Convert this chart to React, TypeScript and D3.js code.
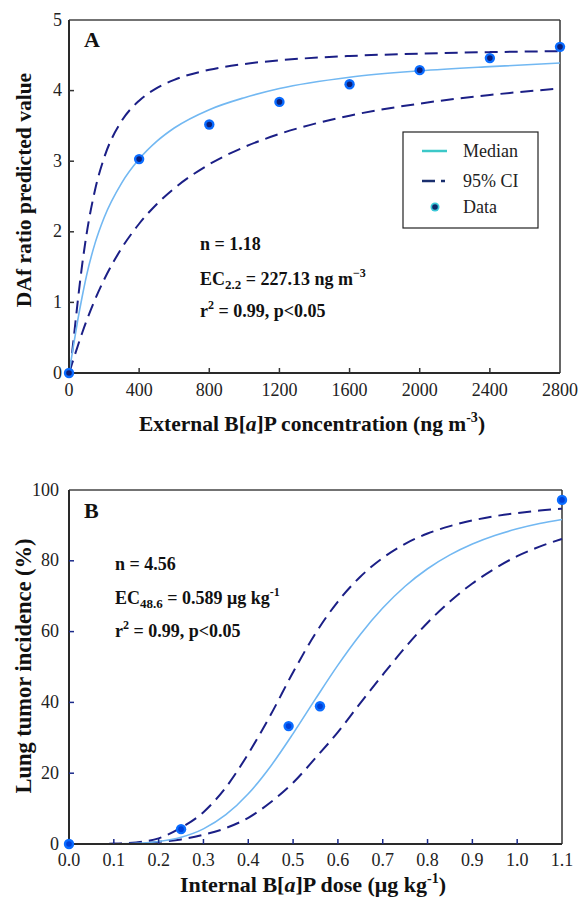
import React from "react";
import * as d3 from "d3";

// ---------- Panel A data ----------
const A_X_TICKS = [0, 400, 800, 1200, 1600, 2000, 2400, 2800];
const A_Y_TICKS = [0, 1, 2, 3, 4, 5];
const A_DATA_X = [0, 400, 800, 1200, 1600, 2000, 2400, 2800];
const A_DATA_Y = [0, 3.03, 3.52, 3.84, 4.09, 4.29, 4.46, 4.62];
const A_CURVE_X = [0, 10, 25, 50, 75, 100, 150, 200, 300, 400, 500, 600, 800, 1000, 1200, 1600, 2000, 2400, 2800];
const A_MEDIAN = [0, 0.15, 0.38, 0.75, 1.08, 1.38, 1.85, 2.2, 2.69, 3.03, 3.28, 3.47, 3.73, 3.9, 4.03, 4.19, 4.28, 4.34, 4.39];
const A_UPPER = [0, 0.136, 0.451, 1.019, 1.532, 1.964, 2.609, 3.046, 3.569, 3.857, 4.035, 4.152, 4.295, 4.377, 4.429, 4.49, 4.524, 4.545, 4.559];
const A_LOWER = [0, 0.073, 0.191, 0.383, 0.567, 0.739, 1.051, 1.322, 1.767, 2.114, 2.391, 2.615, 2.956, 3.201, 3.386, 3.645, 3.816, 3.938, 4.029];

// ---------- Panel B data ----------
const B_X_TICKS = [0, 0.1, 0.2, 0.3, 0.4, 0.5, 0.6, 0.7, 0.8, 0.9, 1.0, 1.1];
const B_Y_TICKS = [0, 20, 40, 60, 80, 100];
const B_DATA_X = [0, 0.25, 0.49, 0.56, 1.1];
const B_DATA_Y = [0, 4.2, 33.3, 38.9, 97.2];
const B_CURVE_X = [0, 0.05, 0.1, 0.15, 0.2, 0.25, 0.3, 0.35, 0.4, 0.45, 0.5, 0.55, 0.6, 0.65, 0.7, 0.75, 0.8, 0.85, 0.9, 0.95, 1.0, 1.05, 1.1];
const B_MEDIAN = [0, 0, 0.03, 0.19, 0.7, 1.91, 4.28, 8.27, 14.18, 21.98, 31.19, 40.99, 50.54, 59.21, 66.66, 72.81, 77.75, 81.66, 84.74, 87.15, 89.03, 90.52, 91.69];
const B_UPPER = [0, 0, 0.08, 0.45, 1.6, 4.6, 9.0, 16.0, 25.5, 36.5, 48.5, 59.5, 68.5, 75.5, 80.8, 84.8, 87.7, 89.8, 91.4, 92.6, 93.5, 94.2, 94.7];
const B_LOWER = [0, 0, 0.05, 0.2, 0.6, 1.3, 2.6, 4.5, 7.4, 11.8, 17.3, 24.3, 31.6, 39.8, 47.8, 55.5, 62.5, 68.5, 73.6, 77.8, 81.3, 84.0, 86.2];

const SERIF = { fontFamily: "Liberation Serif, DejaVu Serif, serif" };
const MEDIAN_COLOR = "#72b8f2";
const CI_COLOR = "#1b1f86";
const AXIS_COLOR = "#2a2a2a";

type PanelProps = {
  x0: number; x1: number; y0: number; y1: number;
  xDomain: [number, number]; yDomain: [number, number];
  xTicks: number[]; yTicks: number[];
  xFmt: (v: number) => string;
  xLabelOffset: number;
  yLabelGap: number;
  curveX: number[]; median: number[]; upper: number[]; lower: number[];
  dataX: number[]; dataY: number[];
  tickColor: string;
  innerColor: string;
};

function Panel(p: PanelProps) {
  const x = d3.scaleLinear().domain(p.xDomain).range([p.x0, p.x1]);
  const y = d3.scaleLinear().domain(p.yDomain).range([p.y1, p.y0]);
  const line = d3
    .line<number>()
    .x((_, i) => x(p.curveX[i]))
    .y((d) => y(d))
    .curve(d3.curveMonotoneX);
  return (
    <g>
      <line x1={p.x0} x2={p.x1} y1={p.y0} y2={p.y0} stroke="#444" strokeWidth={1.5} />
      <line x1={p.x1} x2={p.x1} y1={p.y0} y2={p.y1} stroke="#333" strokeWidth={1.5} />
      <path d={line(p.upper) || ""} fill="none" stroke={CI_COLOR} strokeWidth={2} strokeDasharray="13,7" />
      <path d={line(p.lower) || ""} fill="none" stroke={CI_COLOR} strokeWidth={2} strokeDasharray="13,7" />
      <path d={line(p.median) || ""} fill="none" stroke={MEDIAN_COLOR} strokeWidth={1.6} />
      <line x1={p.x0} x2={p.x1} y1={p.y1} y2={p.y1} stroke={AXIS_COLOR} strokeWidth={2} />
      <line x1={p.x0} x2={p.x0} y1={p.y0} y2={p.y1} stroke={AXIS_COLOR} strokeWidth={2} />
      {p.xTicks.map((t) => (
        <g key={"xt" + t}>
          {t !== p.xDomain[0] && t !== p.xDomain[1] && (
            <line x1={x(t)} x2={x(t)} y1={p.y1} y2={p.y1 - 5} stroke={p.tickColor} strokeWidth={1.5} />
          )}
          <text x={x(t)} y={p.y1 + p.xLabelOffset} textAnchor="middle" style={SERIF} fontSize={18} fill="#222">
            {p.xFmt(t)}
          </text>
        </g>
      ))}
      {p.yTicks.map((t) => (
        <g key={"yt" + t}>
          {t !== p.yDomain[0] && t !== p.yDomain[1] && (
            <line x1={p.x0} x2={p.x0 + 5} y1={y(t)} y2={y(t)} stroke={p.tickColor} strokeWidth={1.5} />
          )}
          <text x={p.x0 - p.yLabelGap} y={y(t) + 5.5} textAnchor="end" style={SERIF} fontSize={18} fill="#222">
            {t}
          </text>
        </g>
      ))}
      {p.dataX.map((dx, i) => (
        <g key={"pt" + i}>
          <circle cx={x(dx)} cy={y(p.dataY[i])} r={5.2} fill="#0a6cff" />
          <circle cx={x(dx)} cy={y(p.dataY[i])} r={2.8} fill={p.innerColor} />
        </g>
      ))}
    </g>
  );
}

export default function App() {
  return (
    <svg width={581} height={897} style={{ position: "absolute", left: 0, top: 0, background: "#fff", ...SERIF }}>
      {/* ---------------- Panel A ---------------- */}
      <Panel
        x0={69} x1={560} y0={20} y1={373}
        xDomain={[0, 2800]} yDomain={[0, 5]}
        xTicks={A_X_TICKS} yTicks={A_Y_TICKS}
        xFmt={(v) => String(v)}
        xLabelOffset={23}
        yLabelGap={7}
        curveX={A_CURVE_X} median={A_MEDIAN} upper={A_UPPER} lower={A_LOWER}
        dataX={A_DATA_X} dataY={A_DATA_Y}
        tickColor="#333" innerColor="#0b1f7a"
      />
      <text x={84} y={47} style={SERIF} fontWeight="bold" fontSize={22} fill="#111">A</text>
      <g style={SERIF} fontWeight="bold" fontSize={18} fill="#111">
        <text x={200} y={250}>n = 1.18</text>
        <text x={200} y={285}>
          EC<tspan fontSize={13} dy={4}>2.2</tspan>
          <tspan dy={-4}> = 227.13 ng m</tspan>
          <tspan fontSize={12} dy={-8}>−3</tspan>
        </text>
        <text x={200} y={317}>
          r<tspan fontSize={12} dy={-8}>2</tspan>
          <tspan dy={8}> = 0.99, p&lt;0.05</tspan>
        </text>
      </g>
      {/* legend */}
      <rect x={403} y={132} width={135} height={96} fill="#fff" stroke="#222" strokeWidth={1.2} />
      <line x1={422} x2={447} y1={151} y2={151} stroke="#3cc8c8" strokeWidth={2.5} />
      <line x1={422} x2={435} y1={181} y2={181} stroke="#1a2f6e" strokeWidth={2.5} />
      <line x1={441} x2={445} y1={181} y2={181} stroke="#1a2f6e" strokeWidth={2.5} />
      <circle cx={435} cy={207} r={4.5} fill="#3cc8d8" />
      <circle cx={435} cy={207} r={2.8} fill="#0b2a6a" />
      <g style={SERIF} fontSize={18} fill="#222">
        <text x={463} y={157}>Median</text>
        <text x={463} y={187}>95% CI</text>
        <text x={463} y={213}>Data</text>
      </g>
      <text x={312} y={431} textAnchor="middle" style={SERIF} fontWeight="bold" fontSize={21.5} fill="#111">
        External B[<tspan fontStyle="italic">a</tspan>]P concentration (ng m<tspan fontSize={14} dy={-9}>-3</tspan><tspan dy={9}>)</tspan>
      </text>
      <text transform="translate(31,190) rotate(-90)" textAnchor="middle" style={SERIF} fontWeight="bold" fontSize={21.5} fill="#111">
        DAf ratio predicted value
      </text>

      {/* ---------------- Panel B ---------------- */}
      <Panel
        x0={69} x1={562} y0={490} y1={844}
        xDomain={[0, 1.1]} yDomain={[0, 100]}
        xTicks={B_X_TICKS} yTicks={B_Y_TICKS}
        xFmt={(v) => v.toFixed(1)}
        xLabelOffset={22}
        yLabelGap={10}
        curveX={B_CURVE_X} median={B_MEDIAN} upper={B_UPPER} lower={B_LOWER}
        dataX={B_DATA_X} dataY={B_DATA_Y}
        tickColor="#1a2a8a" innerColor="#0040d8"
      />
      <text x={84} y={518} style={SERIF} fontWeight="bold" fontSize={22} fill="#111">B</text>
      <g style={SERIF} fontWeight="bold" fontSize={18} fill="#111">
        <text x={115} y={570}>n = 4.56</text>
        <text x={115} y={604}>
          EC<tspan fontSize={13} dy={4}>48.6</tspan>
          <tspan dy={-4}> = 0.589 μg kg</tspan>
          <tspan fontSize={12} dy={-8}>-1</tspan>
        </text>
        <text x={115} y={637}>
          r<tspan fontSize={12} dy={-8}>2</tspan>
          <tspan dy={8}> = 0.99, p&lt;0.05</tspan>
        </text>
      </g>
      <text x={313} y={892} textAnchor="middle" style={SERIF} fontWeight="bold" fontSize={22} fill="#111">
        Internal B[<tspan fontStyle="italic">a</tspan>]P dose (μg kg<tspan fontSize={14} dy={-9}>-1</tspan><tspan dy={9}>)</tspan>
      </text>
      <text transform="translate(31,666) rotate(-90)" textAnchor="middle" style={SERIF} fontWeight="bold" fontSize={22.5} fill="#111">
        Lung tumor incidence (%)
      </text>
    </svg>
  );
}
